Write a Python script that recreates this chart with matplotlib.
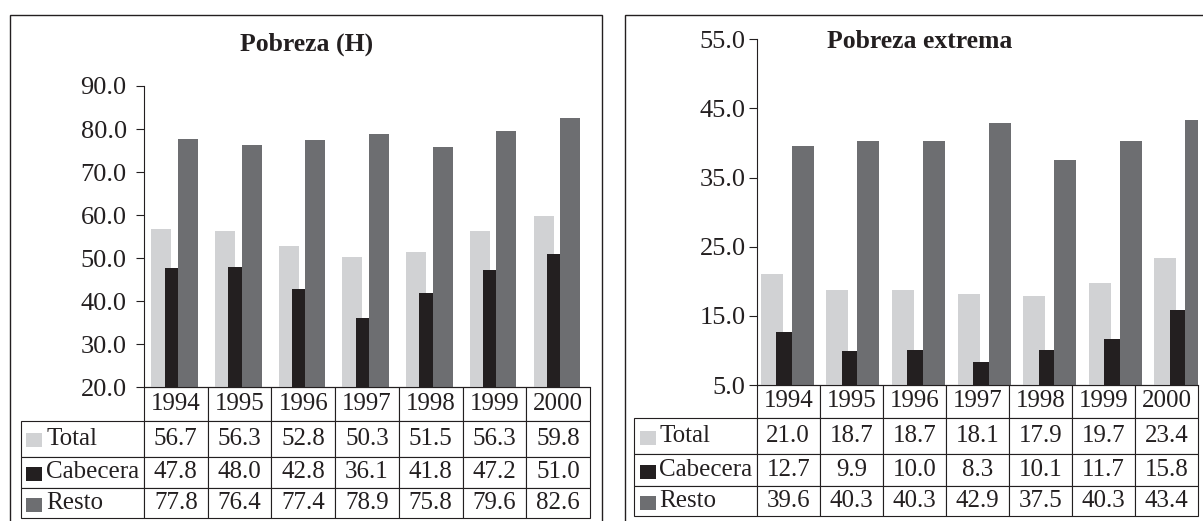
import numpy as np
import matplotlib
matplotlib.use("Agg")
import matplotlib.pyplot as plt
from matplotlib.patches import Rectangle

plt.rcParams['font.family'] = ['Liberation Serif', 'DejaVu Serif']

years = ['1994', '1995', '1996', '1997', '1998', '1999', '2000']
series = ['Total', 'Cabecera', 'Resto']
colors = ['#d1d2d4', '#231f20', '#6d6e71']
ink = '#231f20'

pobreza_total = [56.7, 56.3, 52.8, 50.3, 51.5, 56.3, 59.8]
pobreza_cabecera = [47.8, 48.0, 42.8, 36.1, 41.8, 47.2, 51.0]
pobreza_resto = [77.8, 76.4, 77.4, 78.9, 75.8, 79.6, 82.6]

extrema_total = [21.0, 18.7, 18.7, 18.1, 17.9, 19.7, 23.4]
extrema_cabecera = [12.7, 9.9, 10.0, 8.3, 10.1, 11.7, 15.8]
extrema_resto = [39.6, 40.3, 40.3, 42.9, 37.5, 40.3, 43.4]

pobreza_ticks = [20, 30, 40, 50, 60, 70, 80, 90]
extrema_ticks = [5, 15, 25, 35, 45, 55]

W, H = 1203, 521
fig = plt.figure(figsize=(W / 100, H / 100), dpi=100)


def fx(px):
    return px / W


def fy(py):
    return 1 - py / H


def panel(x0, x1, ytop, ybot, data, ticks, xlim, bar_w, step,
          label_px, row_h, tick_pad):
    ax = fig.add_axes([fx(x0), fy(ybot), fx(x1 - x0), (ybot - ytop) / H])
    x = np.arange(len(years))
    for k, (vals, col) in enumerate(zip(data, colors)):
        ax.bar(x + (k - 1) * step, vals, width=bar_w, color=col,
               linewidth=0, zorder=2)
    ax.set_xlim(*xlim)
    ax.set_ylim(ticks[0], ticks[-1])
    ax.set_yticks(ticks)
    ax.set_yticklabels([f"{t:.1f}" for t in ticks])
    ax.set_xticks([])
    ax.spines['top'].set_visible(False)
    ax.spines['right'].set_visible(False)
    for s in ['left', 'bottom']:
        ax.spines[s].set_color(ink)
        ax.spines[s].set_linewidth(0.8)
    ax.tick_params(axis='y', length=6, width=0.8, pad=tick_pad,
                   labelsize=19, colors=ink)

    # data table under the bars
    ax_w = x1 - x0
    ax_h = ybot - ytop
    tab_h = sum(row_h)
    cell_text = [[''] + years]
    for name, vals in zip(series, data):
        cell_text.append([name] + [f"{v:.1f}" for v in vals])
    col_w = [label_px] + [ax_w / len(years)] * len(years)
    tab = ax.table(cellText=cell_text, colWidths=col_w, cellLoc='center',
                   bbox=[-label_px / ax_w, -tab_h / ax_h,
                         1 + label_px / ax_w, tab_h / ax_h])
    tab.auto_set_font_size(False)
    tab.set_fontsize(18)
    for (r, c), cell in tab.get_celld().items():
        cell.set_height(row_h[r])
        cell.set_edgecolor(ink)
        cell.set_linewidth(0.8)
        cell.get_text().set_color(ink)
        if r == 0 and c == 0:
            cell.visible_edges = 'open'
        if c == 0 and r > 0:
            cell.get_text().set_ha('left')
            cell.PAD = 25.5 / label_px

    # legend squares in the label column
    top = ybot + row_h[0]
    for k, col in enumerate(colors):
        yc = top + row_h[k + 1] / 2 + 1.5
        top += row_h[k + 1]
        fig.add_artist(Rectangle((fx(x0 - label_px + 5.5), fy(yc + 7)),
                                 fx(16), 14 / H, transform=fig.transFigure,
                                 facecolor=col, edgecolor='none'))
    return ax


panel(144, 590, 86, 387.3,
      [pobreza_total, pobreza_cabecera, pobreza_resto], pobreza_ticks,
      (-0.48, 6.52), 0.314, 0.209, 123.3, [33.7, 35.7, 31.0, 30.6], 6.5)

panel(756.7, 1198.3, 39.3, 385,
      [extrema_total, extrema_cabecera, extrema_resto], extrema_ticks,
      (-0.466, 6.265), 0.335, 0.236, 122.7, [32.7, 36.6, 31.7, 30.0], 2)

fig.text(fx(306.7), fy(50.7), 'Pobreza (H)', ha='center', va='baseline',
         fontsize=18.5, fontweight='bold', color=ink)
fig.text(fx(920), fy(48.3), 'Pobreza extrema', ha='center', va='baseline',
         fontsize=18.5, fontweight='bold', color=ink)

# panel frames (open at the bottom, cut by the page)
fig.add_artist(Rectangle((fx(10), -0.1), fx(601.7 - 10), fy(14.7) + 0.1,
                         transform=fig.transFigure, fill=False,
                         edgecolor=ink, linewidth=1))
fig.add_artist(Rectangle((fx(625), -0.1), 1.2, fy(14.7) + 0.1,
                         transform=fig.transFigure, fill=False,
                         edgecolor=ink, linewidth=1))

fig.savefig('out.png', dpi=100)
